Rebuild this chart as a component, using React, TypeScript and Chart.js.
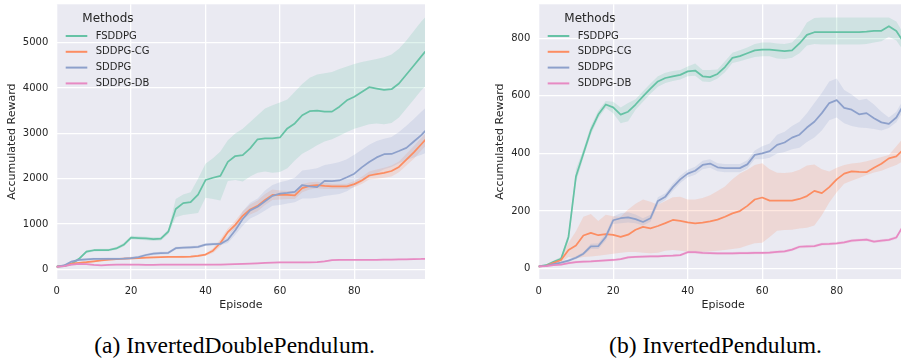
import React, { useEffect, useRef } from "react";
import { Chart, registerables } from "chart.js";

Chart.register(...registerables);

// ---------- shared categories / ticks ----------
const episodes = [0, 2, 4, 6, 8, 10, 12, 14, 16, 18, 20, 22, 24, 26, 28, 30, 32, 34, 36, 38, 40, 42, 44, 46, 48, 50, 52, 54, 56, 58, 60, 62, 64, 66, 68, 70, 72, 74, 76, 78, 80, 82, 84, 86, 88, 90, 92, 94, 96, 98, 99];
const xTicks = [0, 20, 40, 60, 80];
const yTicksDouble = [0, 1000, 2000, 3000, 4000, 5000];
const yTicksSingle = [0, 200, 400, 600, 800];
const methodNames = ["FSDDPG", "SDDPG-CG", "SDDPG", "SDDPG-DB"];
const methodColors = ["#66c2a5", "#fc8d62", "#8da0cb", "#e78ac3"];
const legendTitle = "Methods";
const xTitle = "Episode";
const yTitle = "Accumulated Reward";
const captionA = "(a) InvertedDoublePendulum.";
const captionB = "(b) InvertedPendulum.";

// ---------- (a) InvertedDoublePendulum ----------
const idpFsddpg = [60, 70, 120, 230, 390, 420, 425, 425, 460, 540, 700, 690, 680, 665, 675, 830, 1330, 1460, 1480, 1650, 1970, 2020, 2060, 2370, 2500, 2520, 2670, 2870, 2890, 2890, 2910, 3110, 3220, 3400, 3490, 3500, 3480, 3480, 3590, 3730, 3810, 3915, 4020, 3990, 3960, 3975, 4100, 4300, 4500, 4700, 4800];
const idpFsddpgLo = [40, 55, 100, 200, 360, 390, 395, 395, 430, 500, 660, 650, 640, 625, 635, 780, 1150, 1200, 1220, 1240, 1580, 1550, 1520, 1950, 1970, 1940, 2050, 2130, 2160, 2130, 2150, 2230, 2400, 2550, 2640, 2740, 2820, 2870, 2950, 3030, 3100, 3150, 3200, 3220, 3200, 3230, 3350, 3550, 3750, 3950, 4030];
const idpFsddpgHi = [80, 85, 140, 260, 420, 450, 455, 455, 490, 580, 740, 730, 720, 705, 715, 880, 1550, 1650, 1700, 2000, 2330, 2450, 2600, 2850, 3000, 3100, 3250, 3400, 3550, 3620, 3680, 3750, 3920, 4090, 4230, 4300, 4330, 4355, 4420, 4475, 4530, 4575, 4610, 4645, 4680, 4740, 4870, 5050, 5260, 5470, 5560];

const idpSddpgCg = [60, 80, 125, 140, 155, 175, 195, 210, 225, 235, 240, 245, 255, 262, 268, 272, 275, 276, 280, 295, 325, 410, 580, 820, 980, 1180, 1320, 1400, 1530, 1640, 1640, 1640, 1630, 1790, 1840, 1860, 1840, 1830, 1830, 1830, 1880, 1960, 2070, 2100, 2130, 2170, 2260, 2420, 2580, 2760, 2850];
const idpSddpgCgLo = [45, 60, 105, 120, 135, 155, 175, 190, 205, 215, 220, 225, 235, 242, 248, 252, 255, 256, 260, 272, 300, 360, 500, 760, 900, 1100, 1210, 1280, 1420, 1530, 1540, 1550, 1550, 1700, 1760, 1790, 1770, 1770, 1770, 1770, 1810, 1880, 1980, 2000, 2020, 2050, 2140, 2290, 2440, 2620, 2710];
const idpSddpgCgHi = [75, 100, 145, 160, 175, 195, 215, 230, 245, 255, 260, 265, 275, 282, 288, 292, 295, 296, 300, 318, 350, 460, 660, 900, 1070, 1280, 1430, 1520, 1660, 1760, 1740, 1730, 1730, 1880, 1920, 1930, 1910, 1890, 1890, 1890, 1950, 2040, 2160, 2200, 2240, 2290, 2380, 2550, 2720, 2900, 2990];

const idpSddpg = [60, 85, 170, 205, 220, 227, 228, 230, 232, 234, 245, 270, 315, 345, 355, 362, 465, 475, 485, 495, 545, 556, 558, 650, 860, 1110, 1300, 1380, 1500, 1620, 1670, 1685, 1710, 1860, 1830, 1815, 1950, 1945, 1960, 2030, 2110, 2250, 2370, 2470, 2540, 2545, 2610, 2680, 2820, 2960, 3050];
const idpSddpgLo = [45, 65, 145, 180, 195, 200, 200, 202, 204, 206, 215, 240, 285, 315, 325, 332, 435, 445, 455, 465, 515, 526, 528, 580, 760, 960, 1120, 1200, 1300, 1400, 1420, 1450, 1480, 1560, 1560, 1580, 1620, 1640, 1660, 1720, 1820, 1930, 2030, 2120, 2210, 2260, 2340, 2410, 2470, 2530, 2560];
const idpSddpgHi = [75, 105, 195, 230, 245, 254, 256, 258, 260, 262, 275, 300, 345, 375, 385, 392, 495, 505, 515, 525, 575, 586, 590, 730, 980, 1280, 1470, 1560, 1740, 1860, 1920, 1960, 2020, 2180, 2200, 2230, 2300, 2330, 2370, 2430, 2530, 2640, 2750, 2830, 2880, 2920, 3030, 3170, 3320, 3480, 3550];

const idpSddpgDb = [55, 70, 100, 120, 115, 95, 85, 95, 100, 105, 100, 100, 98, 98, 100, 100, 100, 100, 100, 100, 100, 102, 105, 108, 112, 118, 124, 132, 140, 146, 150, 150, 150, 150, 152, 156, 175, 200, 205, 210, 210, 208, 208, 210, 212, 214, 216, 220, 224, 228, 232];
const idpSddpgDbLo = [45, 55, 80, 100, 95, 78, 70, 80, 85, 90, 85, 85, 83, 83, 85, 85, 85, 85, 85, 85, 85, 87, 90, 92, 96, 102, 108, 116, 124, 130, 134, 134, 134, 134, 136, 140, 158, 182, 187, 192, 192, 190, 190, 192, 194, 196, 198, 202, 206, 210, 214];
const idpSddpgDbHi = [65, 85, 120, 140, 135, 112, 100, 110, 115, 120, 115, 115, 113, 113, 115, 115, 115, 115, 115, 115, 115, 117, 120, 124, 128, 134, 140, 148, 156, 162, 166, 166, 166, 166, 168, 172, 192, 218, 223, 228, 228, 226, 226, 228, 230, 232, 234, 238, 242, 246, 250];

// ---------- (b) InvertedPendulum ----------
const ipFsddpg = [8, 12, 24, 34, 110, 320, 400, 480, 535, 570, 560, 535, 545, 570, 598, 625, 650, 662, 668, 673, 685, 688, 668, 665, 676, 700, 732, 738, 748, 758, 761, 761, 758, 755, 758, 782, 812, 821, 821, 821, 821, 821, 821, 821, 823, 826, 826, 842, 825, 785, 775];
const ipFsddpgLo = [5, 9, 20, 28, 95, 300, 385, 465, 522, 558, 540, 505, 512, 552, 580, 607, 632, 645, 652, 657, 668, 670, 650, 648, 660, 682, 714, 720, 728, 735, 738, 738, 730, 728, 732, 748, 775, 780, 778, 778, 778, 778, 778, 778, 780, 785, 790, 805, 792, 755, 745];
const ipFsddpgHi = [11, 15, 28, 40, 125, 345, 415, 495, 548, 582, 580, 560, 575, 588, 616, 643, 668, 680, 686, 690, 702, 712, 690, 690, 692, 720, 750, 758, 768, 780, 785, 785, 782, 780, 785, 812, 855, 870, 872, 872, 872, 872, 872, 872, 872, 872, 872, 872, 858, 815, 805];

const ipSddpgCg = [8, 10, 20, 30, 65, 80, 115, 124, 116, 120, 117, 110, 118, 135, 145, 140, 148, 158, 169, 166, 161, 157, 160, 164, 170, 180, 192, 200, 218, 240, 247, 236, 236, 236, 236, 242, 252, 270, 262, 283, 310, 330, 338, 336, 335, 350, 364, 383, 390, 415, 425];
const ipSddpgCgLo = [5, 7, 15, 22, 40, 35, 40, 42, 45, 48, 52, 55, 58, 58, 55, 53, 55, 62, 65, 62, 59, 59, 59, 60, 62, 65, 68, 72, 80, 88, 90, 110, 132, 134, 135, 139, 142, 150, 185, 230, 265, 295, 305, 315, 325, 334, 340, 350, 360, 375, 385];
const ipSddpgCgHi = [11, 13, 25, 38, 90, 130, 180, 190, 165, 187, 182, 180, 205, 225, 240, 232, 222, 235, 248, 250, 240, 240, 245, 255, 270, 285, 310, 330, 343, 360, 366, 345, 333, 332, 335, 343, 358, 362, 345, 337, 350, 360, 365, 368, 373, 380, 388, 395, 425, 455, 470];

const ipSddpg = [8, 10, 16, 21, 28, 38, 52, 77, 78, 110, 168, 175, 178, 172, 162, 175, 235, 250, 283, 310, 330, 340, 360, 365, 352, 349, 349, 349, 362, 395, 400, 408, 430, 438, 455, 465, 490, 510, 540, 575, 585, 558, 552, 536, 540, 522, 508, 503, 525, 570, 585];
const ipSddpgLo = [5, 7, 12, 17, 23, 33, 46, 68, 68, 98, 155, 158, 160, 158, 150, 163, 222, 238, 270, 297, 317, 326, 345, 350, 338, 335, 335, 335, 348, 380, 380, 385, 400, 405, 415, 420, 440, 455, 480, 515, 525, 505, 495, 490, 488, 485, 480, 488, 508, 550, 565];
const ipSddpgHi = [11, 13, 20, 25, 33, 43, 58, 86, 88, 122, 181, 192, 196, 188, 175, 187, 248, 262, 296, 323, 343, 354, 375, 380, 366, 363, 363, 363, 376, 410, 425, 435, 465, 475, 495, 510, 540, 575, 610, 650, 660, 620, 605, 585, 590, 570, 545, 525, 545, 590, 605];

const ipSddpgDb = [8, 9, 12, 14, 19, 23, 24, 25, 27, 29, 30, 33, 39, 41, 42, 43, 43, 44, 45, 47, 57, 57, 55, 54, 53, 53, 53, 54, 54, 55, 55, 56, 58, 60, 66, 76, 77, 78, 85, 86, 88, 91, 97, 99, 101, 94, 97, 100, 108, 152, 162];
const ipSddpgDbLo = [5, 6, 9, 11, 15, 19, 20, 21, 23, 25, 26, 29, 35, 37, 38, 39, 39, 40, 41, 43, 52, 52, 50, 49, 48, 48, 48, 49, 49, 50, 50, 51, 53, 55, 61, 71, 72, 73, 80, 81, 83, 86, 92, 94, 96, 89, 92, 95, 102, 145, 155];
const ipSddpgDbHi = [11, 12, 15, 17, 23, 27, 28, 29, 31, 33, 34, 37, 43, 45, 46, 47, 47, 48, 49, 51, 62, 62, 60, 59, 58, 58, 58, 59, 59, 60, 60, 61, 63, 65, 71, 81, 82, 83, 90, 91, 93, 96, 102, 104, 106, 99, 102, 105, 114, 159, 169];

// ---------- styling ----------
const FONT = '"DejaVu Sans", Verdana, sans-serif';
const TEXT = "#262626";
const PLOT_BG = "#EAEAF2";

function hexToRgba(hex: string, a: number) {
  const n = parseInt(hex.slice(1), 16);
  return `rgba(${(n >> 16) & 255},${(n >> 8) & 255},${n & 255},${a})`;
}

function buildDatasets(means: number[][], los: number[][], his: number[][]) {
  const pts = (arr: number[]) => episodes.map((x, k) => ({ x, y: arr[k] }));
  const ds: any[] = [];
  methodNames.forEach((name, i) => {
    ds.push({
      label: name + " lower",
      data: pts(los[i]),
      borderColor: "rgba(0,0,0,0)",
      borderWidth: 0,
      pointRadius: 0,
      fill: false,
      order: 20 - i,
    });
    ds.push({
      label: name + " upper",
      data: pts(his[i]),
      borderColor: "rgba(0,0,0,0)",
      borderWidth: 0,
      pointRadius: 0,
      fill: "-1",
      backgroundColor: hexToRgba(methodColors[i], 0.2),
      order: 20 - i,
    });
  });
  methodNames.forEach((name, i) => {
    ds.push({
      label: name,
      data: pts(means[i]),
      borderColor: methodColors[i],
      borderWidth: 1.75,
      pointRadius: 0,
      fill: false,
      borderJoinStyle: "round",
      borderCapStyle: "round",
      order: 10 - i,
    });
  });
  return ds;
}

const bgPlugin = {
  id: "plotBg",
  beforeDraw(chart: any) {
    const { ctx, chartArea } = chart;
    ctx.save();
    ctx.fillStyle = PLOT_BG;
    ctx.fillRect(chartArea.left, chartArea.top, chartArea.right - chartArea.left, chartArea.bottom - chartArea.top);
    ctx.restore();
  },
};

const legendPlugin = {
  id: "methodsLegend",
  afterDraw(chart: any) {
    const { ctx, chartArea } = chart;
    const x0 = chartArea.left;
    const y0 = chartArea.top;
    ctx.save();
    ctx.textBaseline = "middle";
    ctx.textAlign = "left";
    ctx.fillStyle = TEXT;
    ctx.font = `12px ${FONT}`;
    ctx.fillText(legendTitle, x0 + 25.6, y0 + 14.7);
    ctx.font = `10px ${FONT}`;
    methodNames.forEach((name, i) => {
      const y = y0 + 31.7 + i * 15.8;
      ctx.strokeStyle = methodColors[i];
      ctx.lineWidth = 2;
      ctx.beginPath();
      ctx.moveTo(x0 + 9, y);
      ctx.lineTo(x0 + 30.6, y);
      ctx.stroke();
      ctx.fillStyle = TEXT;
      ctx.fillText(name, x0 + 39, y);
    });
    ctx.restore();
  },
};

function makeConfig(opts: {
  means: number[][];
  los: number[][];
  his: number[][];
  yMin: number;
  yMax: number;
  yTicks: number[];
  padLeft: number;
  padRight: number;
  yWidth: number;
}): any {
  return {
    type: "line",
    data: { datasets: buildDatasets(opts.means, opts.los, opts.his) },
    plugins: [bgPlugin, legendPlugin],
    options: {
      animation: false,
      responsive: false,
      maintainAspectRatio: false,
      events: [],
      layout: { padding: { left: opts.padLeft, top: 4.3, right: opts.padRight, bottom: 0 }, autoPadding: false },
      plugins: { legend: { display: false }, tooltip: { enabled: false } },
      scales: {
        x: {
          type: "linear",
          min: 0,
          max: 99,
          afterBuildTicks: (s: any) => {
            s.ticks = xTicks.map((v) => ({ value: v }));
          },
          afterFit: (s: any) => {
            s.height = 41;
            s.paddingLeft = 0;
            s.paddingRight = 0;
          },
          grid: { color: "#ffffff", lineWidth: 1.3, drawTicks: false },
          border: { display: false },
          ticks: {
            padding: 6.7,
            color: TEXT,
            font: { family: FONT, size: 10 },
            maxRotation: 0,
            autoSkip: false,
            callback: (v: any) => String(v),
          },
          title: {
            display: true,
            text: xTitle,
            color: TEXT,
            font: { family: FONT, size: 11 },
            padding: { top: 0, bottom: 8.4 },
          },
        },
        y: {
          type: "linear",
          min: opts.yMin,
          max: opts.yMax,
          afterBuildTicks: (s: any) => {
            s.ticks = opts.yTicks.map((v) => ({ value: v }));
          },
          afterFit: (s: any) => {
            s.width = opts.yWidth;
            s.paddingTop = 0;
            s.paddingBottom = 0;
          },
          grid: { color: "#ffffff", lineWidth: 1.3, drawTicks: false },
          border: { display: false },
          ticks: {
            padding: 8.4,
            color: TEXT,
            font: { family: FONT, size: 10 },
            autoSkip: false,
            callback: (v: any) => String(v),
          },
          title: {
            display: true,
            text: yTitle,
            color: TEXT,
            font: { family: FONT, size: 11 },
            padding: { top: 5.4, bottom: 0 },
          },
        },
      },
    },
  };
}

const captionStyle = (center: number): React.CSSProperties => ({
  position: "absolute",
  left: center - 200,
  width: 400,
  top: 334.3,
  textAlign: "center",
  fontFamily: '"Liberation Serif", "Times New Roman", serif',
  fontSize: "23.5px",
  lineHeight: "23.5px",
  color: "#000",
  whiteSpace: "nowrap",
});

export default function App() {
  const leftRef = useRef<HTMLCanvasElement | null>(null);
  const rightRef = useRef<HTMLCanvasElement | null>(null);

  useEffect(() => {
    if (!leftRef.current || !rightRef.current) return;
    const left = new Chart(
      leftRef.current,
      makeConfig({
        means: [idpFsddpg, idpSddpgCg, idpSddpg, idpSddpgDb],
        los: [idpFsddpgLo, idpSddpgCgLo, idpSddpgLo, idpSddpgDbLo],
        his: [idpFsddpgHi, idpSddpgCgHi, idpSddpgHi, idpSddpgDbHi],
        yMin: -215,
        yMax: 5850,
        yTicks: yTicksDouble,
        padLeft: 0,
        padRight: 25,
        yWidth: 56.7,
      })
    );
    const right = new Chart(
      rightRef.current,
      makeConfig({
        means: [ipFsddpg, ipSddpgCg, ipSddpg, ipSddpgDb],
        los: [ipFsddpgLo, ipSddpgCgLo, ipSddpgLo, ipSddpgDbLo],
        his: [ipFsddpgHi, ipSddpgCgHi, ipSddpgHi, ipSddpgDbHi],
        yMin: -36,
        yMax: 918,
        yTicks: yTicksSingle,
        padLeft: 38,
        padRight: 0.5,
        yWidth: 50.7,
      })
    );
    return () => {
      left.destroy();
      right.destroy();
    };
  }, []);

  return (
    <div
      style={{
        position: "absolute",
        left: 0,
        top: 0,
        width: 901,
        height: 358,
        overflow: "hidden",
        background: "#ffffff",
      }}
    >
      <canvas
        ref={leftRef}
        width={450}
        height={320}
        style={{ position: "absolute", left: 0, top: 0, width: 450, height: 320, display: "block" }}
      />
      <canvas
        ref={rightRef}
        width={458}
        height={320}
        style={{ position: "absolute", left: 450, top: 0, width: 458, height: 320, display: "block" }}
      />
      <div style={captionStyle(234.5)}>{captionA}</div>
      <div style={captionStyle(715.5)}>{captionB}</div>
    </div>
  );
}
